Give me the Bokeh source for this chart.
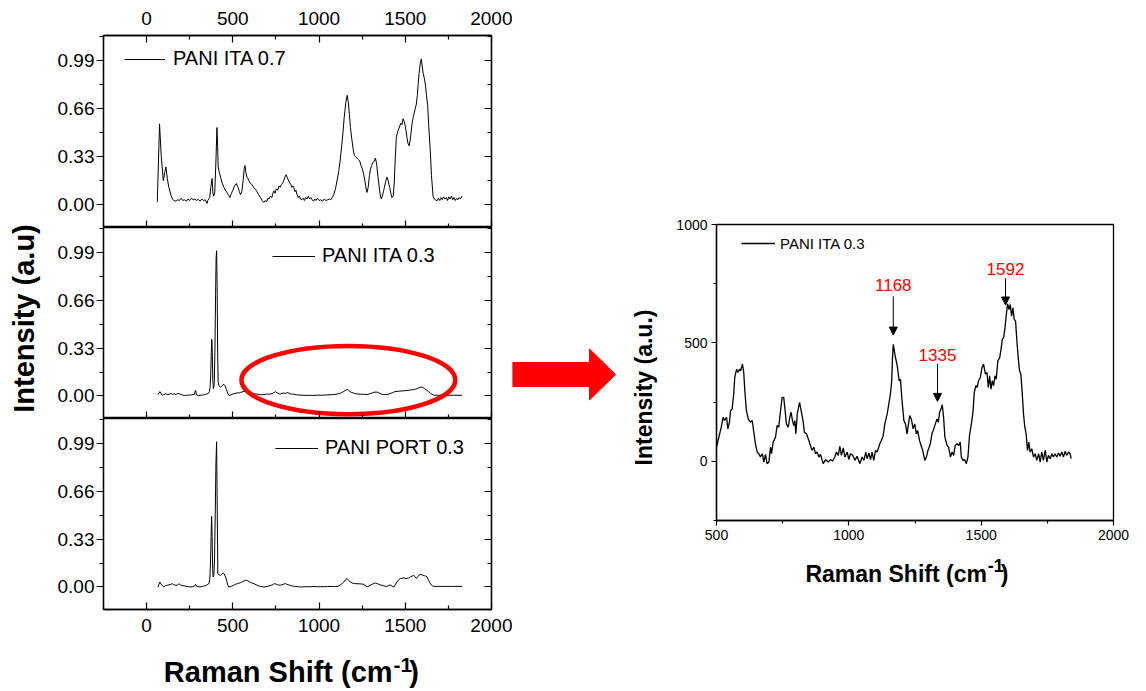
import math

from bokeh.plotting import figure
from bokeh.layouts import row, column
from bokeh.core.properties import value
from bokeh.models import (Range1d, LinearAxis, FixedTicker, NumeralTickFormatter,
                          Label, Arrow, NormalHead, Legend, LegendItem)
from bokeh.embed import file_html
from bokeh.resources import INLINE

FONT = "Liberation Sans"

# ---------------------------------------------------------------- data ----
# Stacked panels: Raman shift (cm-1) vs normalised intensity
shift_ticks = [0, 500, 1000, 1500, 2000]
shift_minor = [-250, 250, 750, 1250, 1750]
norm_ticks = [0.0, 0.33, 0.66, 0.99]
norm_minor = [-0.165, 0.165, 0.495, 0.825, 1.155]

ita07 = [
    (62, 0.02), (75, 0.555), (85, 0.33), (97, 0.165), (105, 0.22), (112, 0.26),
    (120, 0.18), (129, 0.12), (140, 0.07), (150, 0.04), (158, 0.03), (170, 0.025),
    (180, 0.035), (190, 0.03), (200, 0.045), (210, 0.03), (220, 0.035), (230, 0.025),
    (240, 0.04), (250, 0.03), (260, 0.045), (270, 0.035), (280, 0.04), (290, 0.03),
    (300, 0.038), (310, 0.025), (320, 0.04), (330, 0.03), (340, 0.035), (350, 0.01),
    (355, 0.03), (360, 0.04), (366, 0.05), (372, 0.12), (380, 0.18), (384, 0.09),
    (388, 0.06), (395, 0.08), (402, 0.3), (408, 0.53), (412, 0.4), (415, 0.26),
    (422, 0.22), (429, 0.19), (438, 0.15), (448, 0.12), (458, 0.1), (468, 0.08),
    (476, 0.065), (483, 0.05), (492, 0.08), (500, 0.1), (510, 0.13), (520, 0.146),
    (530, 0.12), (538, 0.09), (545, 0.07), (552, 0.09), (560, 0.17), (566, 0.25),
    (570, 0.27), (576, 0.22), (582, 0.19), (588, 0.18), (593, 0.165), (600, 0.15),
    (610, 0.14), (620, 0.12), (631, 0.108), (640, 0.09), (650, 0.07), (660, 0.05),
    (670, 0.03), (680, 0.016), (688, 0.03), (695, 0.02), (703, 0.045), (710, 0.04),
    (718, 0.06), (726, 0.05), (733, 0.08), (738, 0.096), (745, 0.08), (752, 0.11),
    (760, 0.1), (768, 0.13), (775, 0.12), (782, 0.14), (790, 0.15), (796, 0.17),
    (802, 0.19), (809, 0.206), (815, 0.19), (822, 0.17), (830, 0.15), (836, 0.14),
    (842, 0.12), (848, 0.13), (853, 0.12), (860, 0.09), (866, 0.1), (872, 0.07),
    (880, 0.05), (886, 0.06), (892, 0.04), (900, 0.035), (908, 0.045), (915, 0.03),
    (922, 0.05), (930, 0.04), (938, 0.06), (945, 0.04), (952, 0.05), (960, 0.035),
    (968, 0.025), (975, 0.04), (982, 0.03), (990, 0.045), (1000, 0.03), (1010, 0.035),
    (1020, 0.025), (1030, 0.04), (1040, 0.03), (1050, 0.035), (1060, 0.04), (1068, 0.035),
    (1076, 0.05), (1085, 0.07), (1095, 0.11), (1105, 0.17), (1114, 0.23), (1122, 0.3),
    (1130, 0.39), (1138, 0.486), (1146, 0.6), (1155, 0.7), (1163, 0.75), (1170, 0.7),
    (1176, 0.62), (1182, 0.53), (1190, 0.45), (1198, 0.38), (1205, 0.337), (1212, 0.33),
    (1220, 0.32), (1228, 0.31), (1236, 0.3), (1243, 0.27), (1250, 0.25), (1259, 0.21),
    (1265, 0.17), (1270, 0.13), (1278, 0.085), (1285, 0.12), (1292, 0.2), (1298, 0.245),
    (1305, 0.27), (1312, 0.29), (1320, 0.3), (1327, 0.32), (1334, 0.28), (1342, 0.19),
    (1350, 0.11), (1356, 0.06), (1361, 0.04), (1367, 0.06), (1373, 0.09), (1379, 0.12),
    (1386, 0.16), (1394, 0.19), (1400, 0.17), (1405, 0.14), (1410, 0.12), (1416, 0.08),
    (1423, 0.05), (1430, 0.06), (1436, 0.15), (1442, 0.32), (1448, 0.46), (1455, 0.5),
    (1462, 0.52), (1468, 0.54), (1475, 0.56), (1481, 0.55), (1487, 0.59), (1494, 0.57),
    (1500, 0.54), (1504, 0.51), (1510, 0.46), (1516, 0.42), (1522, 0.405), (1528, 0.44),
    (1534, 0.5), (1539, 0.555), (1546, 0.6), (1552, 0.63), (1558, 0.66), (1564, 0.69),
    (1570, 0.75), (1575, 0.83), (1580, 0.9), (1586, 0.96), (1593, 1.0), (1598, 0.95),
    (1604, 0.9), (1611, 0.864), (1617, 0.82), (1623, 0.75), (1630, 0.68), (1637, 0.52),
    (1645, 0.37), (1652, 0.2), (1661, 0.06), (1668, 0.04), (1675, 0.035), (1684, 0.027),
    (1692, 0.045), (1700, 0.03), (1708, 0.05), (1715, 0.035), (1722, 0.055), (1730, 0.04),
    (1738, 0.05), (1745, 0.03), (1752, 0.055), (1760, 0.04), (1768, 0.06), (1775, 0.035),
    (1782, 0.05), (1790, 0.03), (1798, 0.045), (1805, 0.035), (1812, 0.05), (1820, 0.04),
    (1829, 0.06),
]

ita03 = [
    (66, 0.01), (72, 0.02), (77, 0.03), (84, 0.015), (91, 0.005), (100, 0.01),
    (110, 0.015), (120, 0.01), (130, 0.012), (140, 0.016), (150, 0.012), (160, 0.015),
    (170, 0.01), (180, 0.018), (190, 0.015), (200, 0.01), (210, 0.006), (220, 0.004),
    (230, 0.004), (240, 0.006), (250, 0.006), (260, 0.008), (270, 0.01), (278, 0.012),
    (282, 0.035), (285, 0.038), (288, 0.015), (293, 0.005), (300, 0.004), (310, 0.004),
    (320, 0.006), (330, 0.008), (340, 0.01), (350, 0.014), (358, 0.018), (364, 0.03),
    (368, 0.06), (372, 0.15), (375, 0.3), (378, 0.39), (381, 0.3), (384, 0.1),
    (388, 0.05), (392, 0.08), (396, 0.3), (400, 0.7), (403, 0.95), (406, 1.0),
    (409, 0.75), (412, 0.3), (415, 0.095), (420, 0.07), (425, 0.065), (429, 0.06),
    (436, 0.07), (442, 0.075), (448, 0.08), (455, 0.07), (463, 0.045), (470, 0.02),
    (477, 0.004), (485, 0.006), (495, 0.012), (505, 0.015), (515, 0.018), (525, 0.022),
    (535, 0.02), (545, 0.025), (555, 0.028), (565, 0.032), (574, 0.034), (583, 0.03),
    (592, 0.025), (602, 0.02), (612, 0.018), (622, 0.016), (632, 0.014), (645, 0.012),
    (660, 0.01), (670, 0.008), (680, 0.01), (690, 0.012), (700, 0.014), (710, 0.012),
    (720, 0.014), (730, 0.018), (740, 0.024), (747, 0.03), (755, 0.022), (762, 0.02),
    (770, 0.015), (776, 0.014), (785, 0.018), (795, 0.02), (805, 0.018), (815, 0.023),
    (825, 0.02), (835, 0.015), (850, 0.012), (870, 0.008), (890, 0.006), (910, 0.005),
    (931, 0.004), (950, 0.005), (970, 0.004), (990, 0.006), (1010, 0.005), (1030, 0.006),
    (1050, 0.008), (1070, 0.009), (1085, 0.01), (1100, 0.012), (1115, 0.016), (1130, 0.022),
    (1145, 0.032), (1155, 0.04), (1163, 0.045), (1170, 0.04), (1180, 0.03), (1190, 0.024),
    (1200, 0.02), (1211, 0.016), (1225, 0.014), (1240, 0.012), (1255, 0.012), (1265, 0.011),
    (1278, 0.01), (1290, 0.014), (1300, 0.018), (1310, 0.022), (1320, 0.026), (1336, 0.027),
    (1345, 0.022), (1355, 0.016), (1365, 0.012), (1375, 0.01), (1385, 0.01), (1394, 0.01),
    (1405, 0.014), (1415, 0.018), (1425, 0.022), (1440, 0.03), (1452, 0.032), (1465, 0.033),
    (1480, 0.035), (1495, 0.036), (1510, 0.038), (1525, 0.04), (1540, 0.043), (1549, 0.043),
    (1560, 0.048), (1570, 0.052), (1580, 0.056), (1591, 0.062), (1600, 0.06), (1610, 0.052),
    (1620, 0.044), (1626, 0.038), (1635, 0.03), (1645, 0.02), (1655, 0.011), (1665, 0.006),
    (1680, 0.005), (1700, 0.005), (1720, 0.005), (1740, 0.005), (1760, 0.005), (1780, 0.005),
    (1800, 0.005), (1829, 0.005),
]

port03 = [
    (66, 0.0), (72, 0.02), (77, 0.034), (84, 0.02), (92, 0.01), (100, 0.0),
    (110, 0.01), (120, 0.012), (130, 0.015), (140, 0.018), (149, 0.023), (158, 0.015),
    (168, 0.012), (178, 0.012), (187, 0.023), (195, 0.015), (205, 0.01), (215, 0.008),
    (225, 0.006), (235, 0.004), (245, 0.002), (255, 0.0), (265, 0.002), (275, 0.006),
    (282, 0.012), (284, 0.018), (288, 0.008), (295, 0.004), (305, 0.002), (313, 0.0),
    (322, 0.004), (332, 0.006), (342, 0.01), (352, 0.016), (361, 0.023), (366, 0.05),
    (370, 0.15), (374, 0.35), (377, 0.486), (380, 0.35), (383, 0.12), (386, 0.069),
    (390, 0.08), (394, 0.2), (398, 0.5), (402, 0.85), (406, 1.0), (409, 0.6),
    (413, 0.092), (418, 0.085), (423, 0.082), (429, 0.08), (436, 0.088), (444, 0.096),
    (450, 0.09), (458, 0.069), (465, 0.04), (470, 0.015), (477, 0.0), (485, 0.002),
    (495, 0.006), (505, 0.012), (515, 0.018), (525, 0.022), (535, 0.026), (545, 0.03),
    (555, 0.036), (565, 0.042), (572, 0.045), (579, 0.046), (588, 0.042), (598, 0.035),
    (610, 0.028), (622, 0.023), (635, 0.015), (648, 0.008), (660, 0.004), (670, 0.002),
    (680, 0.0), (692, 0.002), (705, 0.006), (716, 0.01), (728, 0.014), (737, 0.02),
    (743, 0.023), (750, 0.02), (758, 0.015), (766, 0.014), (776, 0.012), (785, 0.016),
    (795, 0.02), (805, 0.023), (815, 0.018), (825, 0.014), (835, 0.01), (845, 0.007),
    (853, 0.005), (865, 0.003), (880, 0.002), (892, 0.0), (910, 0.001), (930, 0.002),
    (950, 0.002), (970, 0.003), (990, 0.002), (1010, 0.002), (1030, 0.002), (1050, 0.003),
    (1070, 0.004), (1090, 0.003), (1105, 0.003), (1115, 0.008), (1125, 0.015), (1135, 0.025),
    (1143, 0.034), (1152, 0.048), (1163, 0.058), (1172, 0.045), (1182, 0.035), (1192, 0.027),
    (1205, 0.024), (1220, 0.022), (1235, 0.022), (1248, 0.02), (1259, 0.018), (1268, 0.01),
    (1278, 0.0), (1290, 0.008), (1300, 0.014), (1310, 0.02), (1320, 0.025), (1327, 0.027),
    (1337, 0.024), (1347, 0.018), (1356, 0.014), (1365, 0.012), (1375, 0.008), (1385, 0.004),
    (1394, 0.005), (1404, 0.01), (1414, 0.014), (1424, 0.006), (1433, 0.0), (1442, 0.015),
    (1452, 0.035), (1462, 0.05), (1471, 0.058), (1482, 0.06), (1494, 0.062), (1505, 0.058),
    (1512, 0.06), (1520, 0.062), (1530, 0.07), (1540, 0.075), (1549, 0.08), (1556, 0.072),
    (1564, 0.058), (1572, 0.07), (1580, 0.082), (1591, 0.087), (1600, 0.082), (1610, 0.078),
    (1618, 0.075), (1626, 0.069), (1634, 0.05), (1642, 0.03), (1650, 0.015), (1658, 0.008),
    (1665, 0.005), (1680, 0.004), (1700, 0.004), (1720, 0.004), (1740, 0.004), (1760, 0.004),
    (1780, 0.004), (1800, 0.004), (1829, 0.004),
]

# Expanded view of PANI ITA 0.3 (raw counts)
ita03_counts = [
    (500, 60), (509, 102), (518, 144), (525, 186), (530, 172), (538, 186), (543, 137),
    (549, 165), (553, 214), (559, 221), (565, 284), (569, 354), (576, 389), (581, 375),
    (587, 389), (591, 382), (598, 410), (603, 375), (607, 298), (613, 214), (620, 179),
    (628, 165), (635, 172), (641, 123), (647, 74), (654, 39), (660, 32), (666, 18),
    (673, 32), (679, -3), (685, 29), (691, -10), (698, -3), (704, 60), (708, 32),
    (714, 81), (723, 102), (729, 151), (735, 144), (742, 214), (748, 270), (754, 270),
    (758, 228), (764, 158), (771, 144), (777, 186), (782, 207), (787, 172), (792, 151),
    (796, 172), (800, 116), (805, 200), (814, 249), (821, 207), (827, 172), (832, 123),
    (840, 116), (849, 88), (855, 67), (861, 46), (868, 60), (874, 32), (880, 39),
    (887, 18), (893, 29), (903, -10), (912, 7), (922, -3), (931, 7), (939, 1),
    (947, 18), (953, 39), (960, 25), (966, 63), (972, 25), (979, 57), (985, 18),
    (994, 39), (1000, 7), (1006, 32), (1015, 25), (1023, 4), (1031, 21), (1042, -10),
    (1050, 18), (1057, 4), (1064, 39), (1069, 11), (1076, 35), (1082, 7), (1088, 39),
    (1094, 4), (1101, 46), (1107, 39), (1117, 74), (1123, 88), (1130, 109), (1136, 158),
    (1145, 200), (1151, 242), (1157, 284), (1162, 340), (1165, 438), (1168, 494),
    (1175, 445), (1183, 403), (1190, 340), (1195, 347), (1201, 256), (1208, 172),
    (1214, 158), (1220, 116), (1230, 193), (1236, 179), (1243, 137), (1249, 158),
    (1255, 116), (1260, 130), (1267, 88), (1273, 67), (1279, 46), (1287, 4), (1293, 18),
    (1299, 46), (1308, 74), (1314, 116), (1321, 137), (1327, 158), (1333, 179),
    (1338, 165), (1343, 207), (1348, 221), (1353, 239), (1358, 186), (1363, 102),
    (1371, 67), (1377, 60), (1384, 18), (1390, 39), (1396, 25), (1402, 67), (1409, 74),
    (1415, 67), (1421, 81), (1425, 18), (1431, 4), (1438, 7), (1444, -10), (1450, 18),
    (1456, 109), (1463, 158), (1469, 207), (1474, 291), (1480, 319), (1485, 312),
    (1490, 340), (1497, 354), (1503, 396), (1509, 410), (1516, 368), (1522, 375),
    (1527, 312), (1532, 361), (1537, 305), (1542, 340), (1547, 319), (1552, 361),
    (1557, 347), (1563, 424), (1570, 438), (1575, 473), (1580, 515), (1585, 522),
    (1590, 564), (1595, 620), (1600, 665), (1605, 641), (1610, 662), (1615, 613),
    (1620, 648), (1625, 599), (1630, 592), (1635, 508), (1640, 438), (1645, 382),
    (1650, 368), (1655, 291), (1660, 200), (1665, 144), (1670, 116), (1675, 46),
    (1680, 81), (1685, 39), (1691, 53), (1698, 18), (1704, 32), (1710, 4), (1717, 32),
    (1723, -3), (1729, 39), (1735, 4), (1742, 46), (1748, -3), (1754, 25), (1761, 11),
    (1767, 32), (1773, 18), (1779, 32), (1786, 18), (1792, 35), (1798, 21), (1805, 39),
    (1811, 18), (1817, 42), (1823, 25), (1830, 39), (1836, 32), (1840, 11),
]
zoom_x_ticks = [500, 1000, 1500, 2000]
zoom_x_minor = [750, 1250, 1750]
zoom_y_ticks = [0, 500, 1000]
zoom_y_minor = [-250, 250, 750]

# marked bands: position, label height, arrow start, arrow tip (counts)
peak_positions = [1168, 1335, 1592]
peak_label_y = [743, 448, 811]
peak_arrow_top = [697, 412, 773]
peak_arrow_tip = [533, 253, 660]

# ------------------------------------------------------------- layout ----
PAGE_H = 691
YTITLE_W = 45          # strip holding the shared intensity title
LEFT_END = 512         # right edge of the stacked column
MID_END = 660          # right edge of the arrow strip
PAGE_W = 1146
Y_LO, Y_HI = -0.155, 1.16


def make_axis(ticker, labels, t_in, t_out, m_in, m_out, size="19px", standoff=2, fmt=None):
    ax = LinearAxis(
        ticker=ticker,
        axis_line_color="black", axis_line_width=1.3,
        major_tick_line_color="black", minor_tick_line_color="black",
        major_tick_line_width=1.2, minor_tick_line_width=1.2,
        major_tick_in=t_in, major_tick_out=t_out,
        minor_tick_in=m_in, minor_tick_out=m_out,
        major_label_text_font=FONT,
        major_label_text_color="black" if labels else None,
        major_label_text_font_size=size if labels else "1px",
        major_label_standoff=standoff if labels else 0,
    )
    if fmt is not None:
        ax.formatter = fmt
    return ax


def blank_canvas(x0, x1, y0, y1):
    """A borderless figure whose coordinates are page pixels (y grows downward)."""
    f = figure(width=x1 - x0, height=y1 - y0,
               x_range=Range1d(x0, x1), y_range=Range1d(y1, y0),
               x_axis_location=None, y_axis_location=None,
               toolbar_location=None, output_backend="svg", min_border=0,
               background_fill_color="white", border_fill_color="white")
    f.xgrid.grid_line_color = None
    f.ygrid.grid_line_color = None
    f.outline_line_color = None
    return f


def put_text(f, x, y, txt, size, align="left", color="black", bold=True, angle=0.0):
    # y is the vertical centre of the text line
    f.text(x=[x], y=[y], text=[txt], angle=angle,
           text_align=align, text_baseline="middle",
           text_font=value(FONT), text_font_size=size,
           text_font_style="bold" if bold else "normal", text_color=color)


def spectrum_panel(series, name, height, top, bottom, top_axis, bottom_labels, legend_loc, glyph_w, standoff):
    p = figure(width=LEFT_END - YTITLE_W, height=height,
               x_range=Range1d(-250, 2000), y_range=Range1d(Y_LO, Y_HI),
               x_axis_location=None, y_axis_location=None,
               toolbar_location=None, output_backend="svg",
               min_border_left=103 - YTITLE_W, min_border_right=LEFT_END - 491,
               min_border_top=top, min_border_bottom=bottom,
               background_fill_color="white", border_fill_color="white")
    p.xgrid.grid_line_color = None
    p.ygrid.grid_line_color = None
    p.outline_line_color = "black"
    p.outline_line_width = 1.3

    xt = FixedTicker(ticks=shift_ticks, minor_ticks=shift_minor)
    yt = FixedTicker(ticks=norm_ticks, minor_ticks=norm_minor)
    p.add_layout(make_axis(yt, True, 0, 7, 0, 4, fmt=NumeralTickFormatter(format="0.00")), "left")
    p.add_layout(make_axis(yt, False, 7, 0, 4, 0), "right")
    p.add_layout(make_axis(xt, bottom_labels, 7, 0, 4, 0, standoff=9), "below")
    if top_axis:
        p.add_layout(make_axis(xt, True, 7, 0, 4, 0, standoff=11), "above")

    xs = [a for a, _ in series]
    ys = [b for _, b in series]
    r = p.line(xs, ys, line_color="black", line_width=1)
    p.add_layout(Legend(items=[LegendItem(label=name, renderers=[r])],
                        location=legend_loc, border_line_color=None,
                        background_fill_alpha=0, padding=0, margin=0, spacing=0,
                        glyph_width=glyph_w, glyph_height=20, label_standoff=standoff,
                        label_text_font=FONT, label_text_font_size="20px",
                        label_text_color="black"))
    return p


# ------------------------------------------------------- stacked panels ----
p1 = spectrum_panel(ita07, "PANI ITA 0.7", 227, 35, 0, True, False, (21, 157), 41, 8)
p2 = spectrum_panel(ita03, "PANI ITA 0.3", 191, 0, 0, False, False, (169, 151), 43, 7)
p3 = spectrum_panel(port03, "PANI PORT 0.3", 226, 0, 35, False, True, (172, 150), 43, 7)

# highlighted region of the weak PANI ITA 0.3 bands
p2.ellipse(x=[1170], y=[0.11], width=[1240], height=[0.47],
           fill_color=None, line_color="red", line_width=4.5)

# shared axis titles of the stacked column
ytitle = blank_canvas(0, YTITLE_W, 0, PAGE_H)
put_text(ytitle, 23, 318, "Intensity (a.u)", "29px", align="center", angle=math.pi / 2)

xtitle = blank_canvas(YTITLE_W, LEFT_END, 644, PAGE_H)
put_text(xtitle, 393, 671.5, "Raman Shift (cm", "29px", align="right")
put_text(xtitle, 394, 664, "-1", "21px")
put_text(xtitle, 413, 671.5, ")", "29px")

left = column(p1, p2, p3, xtitle, spacing=0)

# --------------------------------------------------------- pointer arrow ----
mid = blank_canvas(LEFT_END, MID_END, 0, PAGE_H)
tail, neck, tip, mid_y, shaft, head = LEFT_END, 589, 615, 374, 12, 25.5
mid.patch([tail, neck, neck, tip, neck, neck, tail],
          [mid_y - shaft, mid_y - shaft, mid_y - head, mid_y, mid_y + head, mid_y + shaft, mid_y + shaft],
          fill_color="red", line_color="red", line_width=1)
put_text(mid, 643, 387, "Intensity (a.u.)", "23px", align="center", angle=math.pi / 2)

# -------------------------------------------------------- expanded view ----
pr = figure(width=PAGE_W - MID_END, height=550,
            x_range=Range1d(500, 2000), y_range=Range1d(-250, 1000),
            x_axis_location=None, y_axis_location=None,
            toolbar_location=None, output_backend="svg",
            min_border_left=716 - MID_END, min_border_right=PAGE_W - 1113,
            min_border_top=224, min_border_bottom=30,
            background_fill_color="white", border_fill_color="white")
pr.xgrid.grid_line_color = None
pr.ygrid.grid_line_color = None
pr.outline_line_color = "black"
pr.outline_line_width = 1.3
pr.add_layout(make_axis(FixedTicker(ticks=zoom_x_ticks, minor_ticks=zoom_x_minor),
                        True, 0, 5, 0, 3, size="14px", standoff=4), "below")
pr.add_layout(make_axis(FixedTicker(ticks=zoom_y_ticks, minor_ticks=zoom_y_minor),
                        True, 0, 5, 0, 3, size="14px", standoff=4), "left")

rx = [a for a, _ in ita03_counts]
ry = [b for _, b in ita03_counts]
rr = pr.line(rx, ry, line_color="black", line_width=1.3)
pr.add_layout(Legend(items=[LegendItem(label="PANI ITA 0.3", renderers=[rr])],
                     location=(25, 267), border_line_color=None,
                     background_fill_alpha=0, padding=0, margin=0, spacing=0,
                     glyph_width=34, glyph_height=20, label_standoff=5,
                     label_text_font=FONT, label_text_font_size="15px",
                     label_text_color="black"))

for xp, ly, top_y, tip_y in zip(peak_positions, peak_label_y, peak_arrow_top, peak_arrow_tip):
    pr.add_layout(Arrow(x_start=xp, y_start=top_y, x_end=xp, y_end=tip_y,
                        line_color="black", line_width=1,
                        end=NormalHead(size=8, fill_color="black", line_color="black")))
    pr.add_layout(Label(x=xp, y=ly, text=str(xp), text_align="center",
                        text_baseline="middle", text_font=FONT,
                        text_font_size="17px", text_color="red"))

rtitle = blank_canvas(MID_END, PAGE_W, 550, PAGE_H)
put_text(rtitle, 991, 573, "Raman Shift (cm", "23px", align="right")
put_text(rtitle, 992, 565, "-1", "18px")
put_text(rtitle, 1008, 573, ")", "23px")

right = column(pr, rtitle, spacing=0)

layout = row(ytitle, left, mid, right, spacing=0)

with open("out.html", "w") as fh:
    fh.write(file_html(layout, INLINE))
